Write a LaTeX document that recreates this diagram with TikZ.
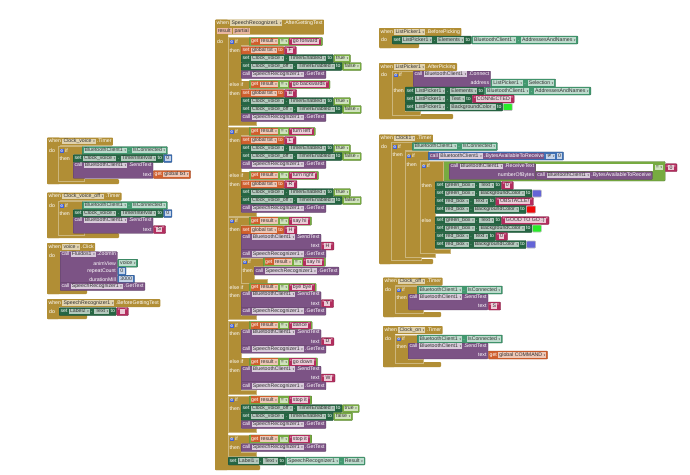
\documentclass[tikz,border=0pt]{standalone}
\usepackage{fontspec}
\newfontfamily\blkfont{Liberation Sans}
\newfontfamily\symfont{DejaVu Sans}
\usetikzlibrary{positioning}
\pgfdeclarelayer{back}
\pgfsetlayers{back,main}

% block colours
\definecolor{evc}{RGB}{177,142,53}
\definecolor{setc}{RGB}{38,102,67}
\definecolor{getc}{RGB}{67,153,112}
\definecolor{callc}{RGB}{124,83,133}
\definecolor{txtc}{RGB}{179,45,94}
\definecolor{logc}{RGB}{119,171,65}
\definecolor{varc}{RGB}{208,95,45}
\definecolor{mathc}{RGB}{63,113,181}
\definecolor{gearc}{RGB}{66,96,210}
\definecolor{swgreen}{RGB}{40,235,40}
\definecolor{swred}{RGB}{240,10,10}
\definecolor{swblue}{RGB}{100,100,215}
\colorlet{evf}{evc!40!white}
\colorlet{setf}{setc!35!white}
\colorlet{getf}{getc!35!white}
\colorlet{callf}{callc!30!white}
\colorlet{txtf}{txtc!25!white}
\colorlet{logf}{logc!35!white}
\colorlet{varf}{varc!35!white}
\colorlet{mathf}{mathc!30!white}
\colorlet{parf}{varc!45!white}

% fields inside the blocks
\newcommand{\ddf}[2][setf]{{\setlength{\fboxsep}{0.5pt}\colorbox{#1}{\textcolor{black!80}{\rule[-0.9pt]{0pt}{4.1pt}\hspace{0.6pt}#2\,\,{\symfont\fontsize{2.8}{2.8}\selectfont ▾}\hspace{0.4pt}}}}}
\newcommand{\fld}[2][txtf]{{\setlength{\fboxsep}{0.5pt}\colorbox{#1}{\textcolor{black!80}{\rule[-0.9pt]{0pt}{4.1pt}\hspace{0.8pt}#2\hspace{0.8pt}}}}}
\newcommand{\inblk}[2]{{\setlength{\fboxsep}{0.6pt}\colorbox{#1}{#2}}}
\newcommand{\gearic}{{\setlength{\fboxsep}{0.3pt}\colorbox{gearc}{\textcolor{white}{\symfont\fontsize{3.8}{3.8}\selectfont ⚙}}}}
\newcommand{\getv}[1]{\inblk{varc}{get \ddf[varf]{#1}}}
\newcommand{\said}[1]{\inblk{txtc}{“\fld{#1}”}}

% C-shaped event frame: x, top, bottom, column width, foot width
\newcommand{\evframe}[5]{%
  \fill[evc, rounded corners=1pt] (#1,#2) rectangle ({#1+#4},#3);
  \fill[evc, rounded corners=1pt] (#1,{#3-5}) rectangle ({#1+#5},#3);}
% if frame: x, top, bottom, header width, header height, column width, foot width
\newcommand{\cframe}[7]{%
  \filldraw[ifline] (#1,#2) -- ({#1+#4},#2) -- ({#1+#4},{#2+#5}) -- ({#1+#6},{#2+#5})
    -- ({#1+#6},{#3-4}) -- ({#1+#7},{#3-4}) -- ({#1+#7},#3) -- (#1,#3) -- cycle;}
% else-if shelf: left, top, right
\newcommand{\shelf}[3]{\fill[evc] (#1,#2) rectangle (#3,{#2+8});}

% repeated blocks
\newcommand{\gettext}[3]{\node[callb] (#1) at (#2,#3) {call \ddf[callf]{SpeechRecognizer1} .GetText};}
\newcommand{\saidis}[4]{\node[logb] (#1) at (#2,#3) {\getv{result} \ddf[logf]{=} \said{#4}};}
\newcommand{\btcon}[3]{\node[getb] (#1) at (#2,#3) {\ddf[getf]{BluetoothClient1} . \ddf[getf]{IsConnected}};}
\newcommand{\enable}[5]{%
  \node[setb] (#1) at (#2,#3) {set \ddf{#4} . \ddf{TimerEnabled} to};
  \node[logb, right=0pt of #1] {\ddf[logf]{#5}};}
\newcommand{\sendtxt}[5]{%
  \node[callb, twoln] (#1) at (#2,#3) {call \ddf[callf]{BluetoothClient1} .SendText};
  \node[lab, anchor=east] at ([xshift=-1.5pt,yshift=4pt]#1.south east) {text};
  \node[#4] at ([yshift=4pt]#1.south east) {#5};}

\tikzset{
  blk/.style={anchor=west, inner xsep=1.4pt, inner ysep=0.6pt, minimum height=8pt,
    text=white, rounded corners=0.8pt, line width=0.25pt,
    font=\blkfont\fontsize{5.2}{6}\selectfont},
  evb/.style={blk, fill=evc},
  setb/.style={blk, fill=setc, draw=setc!70!black},
  getb/.style={blk, fill=getc, draw=getc!70!black},
  callb/.style={blk, fill=callc, draw=callc!70!black},
  txtb/.style={blk, fill=txtc, draw=txtc!70!black},
  logb/.style={blk, fill=logc, draw=logc!70!black},
  varb/.style={blk, fill=varc, draw=varc!70!black},
  mathb/.style={blk, fill=mathc, draw=mathc!70!black},
  swb/.style={blk, minimum width=9pt, minimum height=7pt, draw=gray!50, line width=0.6pt},
  twoln/.style={anchor=north west, text height=3.6pt, text depth=11pt},
  lab/.style={anchor=west, inner sep=0pt, text=white, font=\blkfont\fontsize{5.2}{6}\selectfont},
  ifline/.style={fill=evc, draw=evc!65!white, line width=0.35pt},
}

\begin{document}
\begin{tikzpicture}[x=1pt, y=-1pt]
\begin{pgfonlayer}{back}
  \fill[white] (0,0) rectangle (690,474);
\end{pgfonlayer}
\useasboundingbox (0,0) rectangle (690,474);

%% ---------------- left column ----------------
% when Clock_voice.Timer
\evframe{47}{137.5}{184}{13}{72}
\node[evb] (cvt) at (47,141.5) {when \ddf[evf]{Clock\_voice} .Timer};
\node[lab] at (49,150.5) {do};
\cframe{58}{146.5}{181}{24}{8}{15}{26}
\node[lab] at (59.5,150.5) {\gearic\ if};
\btcon{cvtc}{82}{150.5}
\node[lab] at (59.5,158.5) {then};
\node[setb] (cvts) at (73,158.5) {set \ddf{Clock\_voice} . \ddf{TimerInterval} to};
\node[mathb, right=0pt of cvts] {\fld[mathf]{0}};
\sendtxt{cvtk}{73}{162.5}{varb}{get \ddf[varf]{global txt}}

% when Clock_voice_off.Timer
\evframe{47}{192.5}{238}{13}{72}
\node[evb] (cvo) at (47,196.5) {when \ddf[evf]{Clock\_voice\_off} .Timer};
\node[lab] at (49,205.5) {do};
\cframe{58}{201.5}{235}{24}{8}{15}{26}
\node[lab] at (59.5,205.5) {\gearic\ if};
\btcon{cvoc}{82}{205.5}
\node[lab] at (59.5,213.5) {then};
\node[setb] (cvos) at (73,213.5) {set \ddf{Clock\_voice} . \ddf{TimerInterval} to};
\node[mathb, right=0pt of cvos] {\fld[mathf]{0}};
\sendtxt{cvok}{73}{217.5}{txtb}{“\fld{S}”}

% when voice.Click
\evframe{47}{243}{294}{13}{40}
\node[evb] (vc) at (47,247) {when \ddf[evf]{voice} .Click};
\node[lab] at (49,255.5) {do};
\node[callb, anchor=north west, text height=3.6pt, text depth=26.6pt] (vz) at (60,251.5) {call \ddf[callf]{Fluidos1} .ZoomIn};
\node[lab, anchor=east] at ([xshift=-1.5pt,yshift=20pt]vz.south east) {animView};
\node[getb] at ([yshift=20pt]vz.south east) {\ddf[getf]{voice}};
\node[lab, anchor=east] at ([xshift=-1.5pt,yshift=12pt]vz.south east) {repeatCount};
\node[mathb] at ([yshift=12pt]vz.south east) {\fld[mathf]{0}};
\node[lab, anchor=east] at ([xshift=-1.5pt,yshift=4pt]vz.south east) {durationMill};
\node[mathb] at ([yshift=4pt]vz.south east) {\fld[mathf]{3000}};
\gettext{vg}{60}{286.5}

% when SpeechRecognizer1.BeforeGettingText
\evframe{47}{299}{319}{12}{40}
\node[evb] (bg) at (47,303) {when \ddf[evf]{SpeechRecognizer1} .BeforeGettingText};
\node[lab] at (49,311.5) {do};
\node[setb] (bgs) at (59,311.5) {set \ddf{Label2} . \ddf{Text} to};
\node[txtb, right=0pt of bgs] {“\fld{\hspace{3pt}}”};

%% ---------------- middle column ----------------
\evframe{215}{19.5}{470}{13}{45}
\node[evb, anchor=north west, align=left] (ag) at (215,19.5)
  {when \ddf[evf]{SpeechRecognizer1} .AfterGettingText\\[2pt]\fld[parf]{result} \fld[parf]{partial}};
\node[lab] at (217,41.5) {do};

% go forward / go backwards / turn left / turn right
\cframe{228}{37.5}{125}{21}{8}{13}{28}
\shelf{240.5}{80.5}{249}
\cframe{228}{127.5}{216}{21}{8}{13}{28}
\shelf{240.5}{171.5}{249}
\foreach \y/\phr/\ltr in {41.5/go forward/F, 84.5/go backwards/B, 131.5/turn left/L, 175.5/turn right/R} {
  \saidis{q}{249}{\y}{\phr}
  \node[lab] at (229.5,{\y+9}) {then};
  \node[varb] (g) at (241,{\y+9}) {set \ddf[varf]{global txt} to};
  \node[txtb, right=0pt of g] {“\fld{\ltr}”};
  \enable{e1}{241}{\y+17}{Clock\_voice}{true}
  \enable{e2}{241}{\y+25}{Clock\_voice\_off}{false}
  \gettext{k}{241}{\y+33}
}
\node[lab] at (229.5,41.5) {\gearic\ if};
\node[lab] at (229.5,84.5) {else if};
\node[lab] at (229.5,131.5) {\gearic\ if};
\node[lab] at (229.5,175.5) {else if};

% say hi / bye bye
\cframe{228}{217}{319}{21}{8}{13}{28}
\shelf{240.5}{283.5}{249}
\node[lab] at (229.5,221) {\gearic\ if};
\saidis{q3}{249}{221}{say hi}
\node[lab] at (229.5,230) {then};
\node[varb] (g3) at (241,230) {set \ddf[varf]{global txt} to};
\node[txtb, right=0pt of g3] {“\fld{H}”};
\sendtxt{t3}{241}{234}{txtb}{“\fld{H}”}
\gettext{k3}{241}{253.7}
\cframe{241}{258}{283}{22}{8}{13}{26}
\node[lab] at (242.5,262) {\gearic\ if};
\saidis{q3n}{263}{262}{say hi}
\node[lab] at (242.5,271) {then};
\gettext{k3n}{254}{271}
\node[lab] at (229.5,287.5) {else if};
\saidis{q3b}{249}{287.5}{bye bye}
\node[lab] at (229.5,296) {then};
\sendtxt{t3b}{241}{291.5}{txtb}{“\fld{Y}”}
\gettext{k3b}{241}{311.2}

% dance / go down
\cframe{228}{321.5}{394}{21}{8}{13}{28}
\shelf{240.5}{358}{249}
\node[lab] at (229.5,325.5) {\gearic\ if};
\saidis{q4}{249}{325.5}{dance}
\node[lab] at (229.5,334) {then};
\sendtxt{t4}{241}{329.5}{txtb}{“\fld{D}”}
\gettext{k4}{241}{349.2}
\node[lab] at (229.5,362) {else if};
\saidis{q4b}{249}{362}{go down}
\node[lab] at (229.5,370.5) {then};
\sendtxt{t4b}{241}{366}{txtb}{“\fld{W}”}
\gettext{k4b}{241}{385.7}

% stop it
\cframe{228}{396}{432}{21}{8}{13}{28}
\node[lab] at (229.5,400) {\gearic\ if};
\saidis{q5}{249}{400}{stop it}
\node[lab] at (229.5,408.5) {then};
\enable{e5a}{241}{408.5}{Clock\_voice\_off}{true}
\enable{e5b}{241}{416.5}{Clock\_voice}{false}
\gettext{k5}{241}{424.5}
\cframe{228}{435}{456}{21}{8}{13}{28}
\node[lab] at (229.5,439) {\gearic\ if};
\saidis{q6}{249}{439}{stop it}
\node[lab] at (229.5,447.5) {then};
\gettext{k6}{241}{447.5}
\node[setb] (lb) at (228,461) {set \ddf{Label1} . \ddf{Text} to};
\node[getb, right=0pt of lb] {\ddf[getf]{SpeechRecognizer1} . \ddf[getf]{Result}};

%% ---------------- right column ----------------
% when ListPicker1.BeforePicking
\evframe{379}{28}{48}{13}{40}
\node[evb] (bp) at (379,32) {when \ddf[evf]{ListPicker1} .BeforePicking};
\node[lab] at (381,40) {do};
\node[setb] (bps) at (392,40) {set \ddf{ListPicker1} . \ddf{Elements} to};
\node[getb, right=0pt of bps] {\ddf[getf]{BluetoothClient1} . \ddf[getf]{AddressesAndNames}};

% when ListPicker1.AfterPicking
\evframe{379}{63}{119}{13}{74}
\node[evb] (ap) at (379,67) {when \ddf[evf]{ListPicker1} .AfterPicking};
\node[lab] at (381,75) {do};
\cframe{392}{71}{115.5}{21}{16}{13}{28}
\node[lab] at (393.5,75) {\gearic\ if};
\node[callb, twoln] (apc) at (413,71) {call \ddf[callf]{BluetoothClient1} .Connect};
\node[lab, anchor=east] at ([xshift=-1.5pt,yshift=4pt]apc.south east) {address};
\node[getb] at ([yshift=4pt]apc.south east) {\ddf[getf]{ListPicker1} . \ddf[getf]{Selection}};
\node[lab] at (393.5,91) {then};
\node[setb] (ap1) at (405,91) {set \ddf{ListPicker1} . \ddf{Elements} to};
\node[getb, right=0pt of ap1] {\ddf[getf]{BluetoothClient1} . \ddf[getf]{AddressesAndNames}};
\node[setb] (ap2) at (405,99) {set \ddf{ListPicker1} . \ddf{Text} to};
\node[txtb, right=0pt of ap2] {“\fld{CONNECTED}”};
\node[setb] (ap3) at (405,107) {set \ddf{ListPicker1} . \ddf{BackgroundColor} to};
\node[swb, fill=swgreen, right=0pt of ap3] {};

% when Clock1.Timer
\evframe{379}{134.5}{264}{12}{54}
\node[evb] (ct) at (379,138.5) {when \ddf[evf]{Clock1} .Timer};
\node[lab] at (381,146.5) {do};
\cframe{391}{142.5}{260.5}{21}{8}{14}{30}
\node[lab] at (392.5,146.5) {\gearic\ if};
\btcon{cta}{412}{146.5}
\node[lab] at (392.5,155) {then};
\cframe{405}{151.5}{257}{23}{9}{15}{30}
\node[lab] at (406.5,156) {\gearic\ if};
\node[mathb] (ctb) at (428,156)
  {\inblk{callc}{call \ddf[callf]{BluetoothClient1} .BytesAvailableToReceive} \ddf[mathf]{{\symfont ≠}} \fld[mathf]{0}};
\node[lab] at (406.5,165) {then};
\cframe{420}{161.5}{253}{23}{20}{15}{30}
\node[lab] at (421.5,166) {\gearic\ if};
\node[callb, twoln] (ctr) at (449,163.5) {call \ddf[callf]{BluetoothClient1} .ReceiveText};
\node[lab, anchor=east] at ([xshift=-1.5pt,yshift=4pt]ctr.south east) {numberOfBytes};
\node[callb] (ctv) at ([yshift=4pt]ctr.south east) {call \ddf[callf]{BluetoothClient1} .BytesAvailableToReceive};
\coordinate (cteqpos) at (ctv.east |- ctr.north);
\node[lab] (cteq) at ([xshift=2pt,yshift=-4.2pt]cteqpos) {\ddf[logf]{=}};
\coordinate (ctend) at (cteq.east |- ctr.south);
\node[txtb] (ct0) at ([xshift=2pt]cteq.east) {“\fld{0}”};
\begin{pgfonlayer}{back}
  \fill[logc, draw=logc!70!black, line width=0.25pt, rounded corners=0.8pt]
    (443,161.5) rectangle ([xshift=2pt,yshift=-1.5pt]ctend);
  \fill[white] ([xshift=0.6pt]ctr.north east) rectangle (ctv.north east);
\end{pgfonlayer}
\node[lab] at (421.5,185.5) {then};
\node[setb] (ct1) at (435,185.5) {set \ddf{green\_box} . \ddf{Text} to};
\node[txtb, right=0pt of ct1] {“\fld{0}”};
\node[setb] (ct2) at (435,193.5) {set \ddf{green\_box} . \ddf{BackgroundColor} to};
\node[swb, fill=swblue, right=0pt of ct2] {};
\node[setb] (ct3) at (435,201.5) {set \ddf{red\_box} . \ddf{Text} to};
\node[txtb, right=0pt of ct3] {“\fld{OBSTACLE!}”};
\node[setb] (ct4) at (435,209.5) {set \ddf{red\_box} . \ddf{BackgroundColor} to};
\node[swb, fill=swred, right=0pt of ct4] {};
\node[lab] at (421.5,220.5) {else};
\node[setb] (ct5) at (435,220.5) {set \ddf{green\_box} . \ddf{Text} to};
\node[txtb, right=0pt of ct5] {“\fld{GOOD TO GO :)}”};
\node[setb] (ct6) at (435,228.5) {set \ddf{green\_box} . \ddf{BackgroundColor} to};
\node[swb, fill=swgreen, right=0pt of ct6] {};
\node[setb] (ct7) at (435,236.5) {set \ddf{red\_box} . \ddf{Text} to};
\node[txtb, right=0pt of ct7] {“\fld{0}”};
\node[setb] (ct8) at (435,244.5) {set \ddf{red\_box} . \ddf{BackgroundColor} to};
\node[swb, fill=swblue, right=0pt of ct8] {};

% when Clock_off.Timer
\evframe{383}{277.5}{317}{12}{58}
\node[evb] (co) at (383,281.5) {when \ddf[evf]{Clock\_off} .Timer};
\node[lab] at (385,290) {do};
\cframe{395}{286}{313.5}{22}{8}{13}{28}
\node[lab] at (396.5,290) {\gearic\ if};
\btcon{coc}{417}{290}
\node[lab] at (396.5,298) {then};
\sendtxt{cos}{408}{294}{txtb}{“\fld{S}”}

% when Clock_on.Timer
\evframe{383}{326}{367}{12}{58}
\node[evb] (cn) at (383,330) {when \ddf[evf]{Clock\_on} .Timer};
\node[lab] at (385,339) {do};
\cframe{395}{335}{363}{22}{8}{13}{28}
\node[lab] at (396.5,339) {\gearic\ if};
\btcon{cnc}{417}{339}
\node[lab] at (396.5,347) {then};
\sendtxt{cns}{408}{343}{varb}{get \ddf[varf]{global COMMAND}}
\end{tikzpicture}
\end{document}
